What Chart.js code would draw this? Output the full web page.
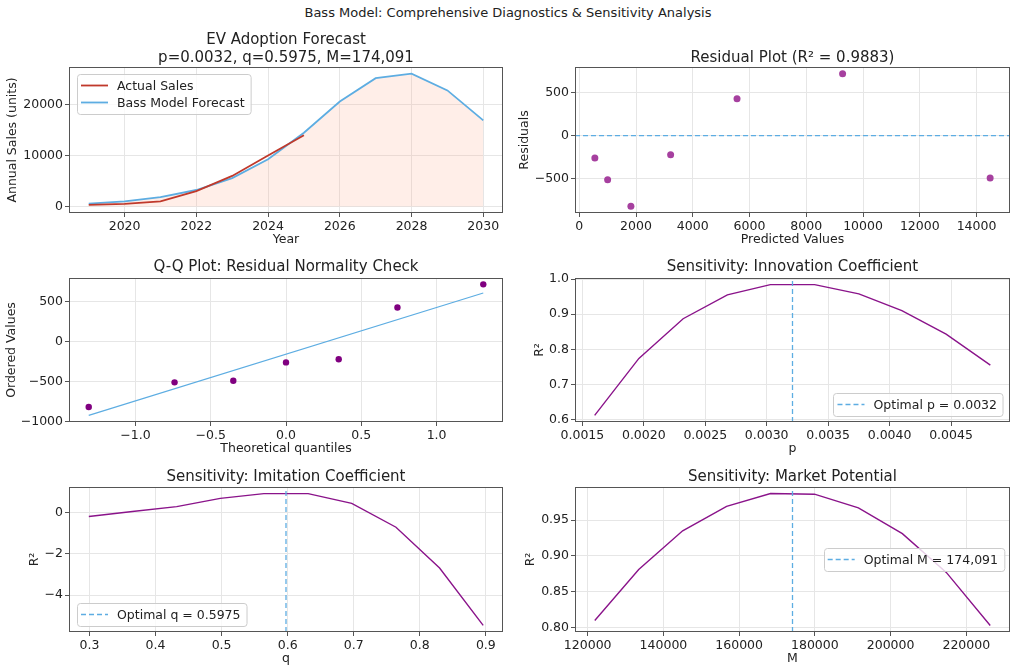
<!DOCTYPE html>
<html lang="en">
<head>
<meta charset="UTF-8">
<title>Bass Model Diagnostics</title>
<script src="https://cdn.jsdelivr.net/npm/chart.js"></script>
<style>
    body { margin: 0; background: #fff; font-family: "DejaVu Sans", sans-serif; }
    #page { position: relative; width: 1016px; height: 672px; overflow: hidden; }
    #suptitle {
        position: absolute; top: 5px; left: 0; width: 1016px;
        text-align: center; font-size: 13px; line-height: 16px; color: #222;
    }
    .panel { position: absolute; }
</style>
</head>
<body>
<div id="page">
    <div id="suptitle">Bass Model: Comprehensive Diagnostics &amp; Sensitivity Analysis</div>
    <div class="panel" id="p1"><canvas id="c1"></canvas></div>
    <div class="panel" id="p2"><canvas id="c2"></canvas></div>
    <div class="panel" id="p3"><canvas id="c3"></canvas></div>
    <div class="panel" id="p4"><canvas id="c4"></canvas></div>
    <div class="panel" id="p5"><canvas id="c5"></canvas></div>
    <div class="panel" id="p6"><canvas id="c6"></canvas></div>
</div>

<script>
    // ---- data ----
    const years = [2019, 2020, 2021, 2022, 2023, 2024, 2025, 2026, 2027, 2028, 2029, 2030];
    const actualYears = [2019, 2020, 2021, 2022, 2023, 2024, 2025];
    const actualSales = [290, 490, 1000, 3000, 5990, 10000, 13990];
    const forecastSales = [550, 1000, 1820, 3220, 5560, 9280, 14480, 20600, 25200, 26100, 22800, 16900];

    const predictedValues = [550, 1000, 1820, 3220, 5560, 9280, 14480];
    const residuals = [-260, -510, -820, -220, 430, 720, -490];

    const theoreticalQ = [-1.31, -0.74, -0.35, 0, 0.35, 0.74, 1.31];
    const orderedResiduals = [-820, -510, -490, -260, -220, 430, 720];
    const qqLineX = [-1.31, 1.31];
    const qqLineY = [-925, 612];

    const pValues = [0.00160, 0.00196, 0.00232, 0.00268, 0.00303, 0.00339, 0.00375, 0.00410, 0.00446, 0.00482];
    const pR2 = [0.612, 0.774, 0.887, 0.955, 0.984, 0.984, 0.958, 0.910, 0.843, 0.755];
    const qValues = [0.299, 0.365, 0.432, 0.498, 0.564, 0.631, 0.697, 0.764, 0.830, 0.896];
    const qR2 = [-0.19, 0.05, 0.29, 0.69, 0.92, 0.92, 0.45, -0.71, -2.69, -5.47];
    const mValues = [121864, 133470, 145076, 156682, 168288, 179894, 191500, 203106, 214712, 226318];
    const mR2 = [0.810, 0.881, 0.935, 0.969, 0.987, 0.986, 0.967, 0.931, 0.877, 0.803];

    const pOpt = 0.00321, qOpt = 0.5975, mOpt = 174091;

    // tick values
    const yearTicks = [2020, 2022, 2024, 2026, 2028, 2030];
    const salesTicks = [0, 10000, 20000];
    const predTicks = [0, 2000, 4000, 6000, 8000, 10000, 12000, 14000];
    const residTicks = [-500, 0, 500];
    const quantTicks = [-1.0, -0.5, 0.0, 0.5, 1.0];
    const orderedTicks = [-1000, -500, 0, 500];
    const pTicks = [0.0015, 0.0020, 0.0025, 0.0030, 0.0035, 0.0040, 0.0045];
    const pR2Ticks = [0.6, 0.7, 0.8, 0.9, 1.0];
    const qTicks = [0.3, 0.4, 0.5, 0.6, 0.7, 0.8, 0.9];
    const qR2Ticks = [-4, -2, 0];
    const mTicks = [120000, 140000, 160000, 180000, 200000, 220000];
    const mR2Ticks = [0.80, 0.85, 0.90, 0.95];

    // ---- styling ----
    const FONT = '"DejaVu Sans", sans-serif';
    const BLUE = '#5dade2';
    const PURPLE = '#8a138a';
    const GRID = '#e6e6e6';
    const SPINE = '#555555';

    const pts = (xs, ys) => xs.map((x, i) => ({ x: x, y: ys[i] }));
    const minus = s => s.replace('-', '\u2212');

    // frame round the plot area, like matplotlib spines
    const frame = {
        id: 'frame',
        afterDatasetsDraw(chart) {
            const a = chart.chartArea, ctx = chart.ctx;
            ctx.save();
            ctx.strokeStyle = SPINE;
            ctx.lineWidth = 1;
            ctx.strokeRect(Math.round(a.left) + 0.5, Math.round(a.top) + 0.5,
                Math.round(a.right - a.left) - 1, Math.round(a.bottom - a.top) - 1);
            ctx.restore();
        }
    };

    // legend box drawn inside the plot area
    const boxLegend = {
        id: 'boxLegend',
        afterDraw(chart, args, opts) {
            if (!opts.corner) return;
            const items = chart.data.datasets.filter(d => d.inLegend);
            const ctx = chart.ctx, a = chart.chartArea;
            ctx.save();
            ctx.font = '12.5px ' + FONT;
            const lineH = 17, sw = 27;
            const textW = Math.max(...items.map(d => ctx.measureText(d.label).width));
            const w = 4 + sw + 9 + textW + 6;
            const h = 6 + lineH * items.length;
            let x, y;
            if (opts.corner === 'ul') { x = a.left + 8; y = a.top + 7; }
            if (opts.corner === 'lr') { x = a.right - 7 - w; y = a.bottom - 6 - h; }
            if (opts.corner === 'll') { x = a.left + 8; y = a.bottom - 6 - h; }
            if (opts.corner === 'cr') { x = a.right - 6 - w; y = (a.top + a.bottom) / 2 - h / 2; }
            ctx.fillStyle = 'rgba(255,255,255,0.8)';
            ctx.strokeStyle = '#cccccc';
            ctx.lineWidth = 1;
            ctx.beginPath();
            ctx.roundRect(Math.round(x) + 0.5, Math.round(y) + 0.5, w, h, 3);
            ctx.fill();
            ctx.stroke();
            items.forEach((d, i) => {
                const cy = y + 3 + lineH * i + lineH / 2;
                ctx.strokeStyle = d.borderColor;
                ctx.lineWidth = d.borderWidth;
                ctx.setLineDash(d.borderDash || []);
                ctx.beginPath();
                ctx.moveTo(x + 4, cy);
                ctx.lineTo(x + 4 + sw, cy);
                ctx.stroke();
                ctx.setLineDash([]);
                ctx.fillStyle = '#222';
                ctx.textBaseline = 'middle';
                ctx.fillText(d.label, x + 4 + sw + 9, cy + 1);
            });
            ctx.restore();
        }
    };

    function axis(min, max, ticks, fmt, title, width, height, titlePad) {
        return {
            type: 'linear',
            min: min,
            max: max,
            bounds: 'data',
            afterBuildTicks: s => { s.ticks = ticks.map(v => ({ value: v })); },
            afterFit: s => {
                if (width) s.width = width;
                if (height) s.height = height;
            },
            grid: { color: GRID, tickColor: SPINE, tickLength: 4, lineWidth: 1 },
            border: { display: false },
            ticks: {
                autoSkip: false, maxRotation: 0, padding: 2,
                color: '#222', font: { family: FONT, size: 12.5 },
                callback: v => minus(fmt(v))
            },
            title: {
                display: true, text: title, color: '#222',
                font: { family: FONT, size: 12.5 },
                padding: titlePad
            }
        };
    }

    function makeChart(id, box, cfg) {
        const div = document.getElementById('p' + id);
        div.style.left = box.left + 'px';
        div.style.top = box.top + 'px';
        div.style.width = box.width + 'px';
        div.style.height = box.height + 'px';
        return new Chart(document.getElementById('c' + id), {
            type: 'line',
            data: { datasets: cfg.datasets },
            options: {
                responsive: true,
                maintainAspectRatio: false,
                animation: false,
                layout: { padding: { right: box.padRight } },
                elements: { line: { tension: 0 } },
                scales: {
                    x: cfg.x,
                    y: cfg.y
                },
                plugins: {
                    legend: { display: false },
                    tooltip: { enabled: false },
                    title: {
                        display: true, text: cfg.title, fullSize: false, color: '#222',
                        font: { family: FONT, size: 15, weight: 'normal', lineHeight: 1.2 },
                        padding: { top: 0, bottom: cfg.titleGap }
                    },
                    boxLegend: { corner: cfg.legend }
                }
            },
            plugins: [frame, boxLegend]
        });
    }

    const lineSet = (label, data, color, extra) => Object.assign({
        label: label, data: data, borderColor: color, borderWidth: 1.5,
        pointRadius: 0, fill: false
    }, extra || {});

    const dotSet = (data, color, r) => ({
        data: data, showLine: false, pointRadius: r, pointBorderWidth: 0,
        pointBackgroundColor: color, borderColor: color
    });

    const xPad = { top: 0, bottom: 2 };

    // 1. EV adoption forecast (first dataset is drawn on top and listed first)
    makeChart(1, { left: 0, top: 31, width: 508, height: 218, padRight: 5 }, {
        title: ['EV Adoption Forecast', 'p=0.0032, q=0.5975, M=174,091'],
        titleGap: 0,
        legend: 'ul',
        x: axis(2018.45, 2030.55, yearTicks, v => String(v), 'Year', 0, 36, xPad),
        y: axis(-1300, 27400, salesTicks, v => String(v), 'Annual Sales (units)', 69, 0, { top: 5.5, bottom: 0 }),
        datasets: [
            lineSet('Actual Sales', pts(actualYears, actualSales), '#c0392b', { inLegend: true, borderWidth: 1.8 }),
            lineSet('Bass Model Forecast', pts(years, forecastSales), BLUE,
                { inLegend: true, borderWidth: 1.8, fill: 'origin', backgroundColor: 'rgba(255,170,140,0.2)' })
        ]
    });

    // 2. Residual plot
    makeChart(2, { left: 508, top: 49, width: 508, height: 200, padRight: 6 }, {
        title: 'Residual Plot (R\u00b2 = 0.9883)',
        titleGap: 0,
        x: axis(-150, 15180, predTicks, v => String(v), 'Predicted Values', 0, 36, xPad),
        y: axis(-897, 797, residTicks, v => String(v), 'Residuals', 67, 0, { top: 9.5, bottom: 0 }),
        datasets: [
            dotSet(pts(predictedValues, residuals), '#a6409f', 3.5),
            lineSet('zero', pts([-150, 15180], [0, 0]), BLUE, { borderWidth: 1.3, borderDash: [5, 3] })
        ]
    });

    // 3. Q-Q plot
    makeChart(3, { left: 0, top: 258, width: 508, height: 200, padRight: 5 }, {
        title: 'Q-Q Plot: Residual Normality Check',
        titleGap: 2,
        x: axis(-1.441, 1.441, quantTicks, v => v.toFixed(1), 'Theoretical quantiles', 0, 36, xPad),
        y: axis(-1008, 800, orderedTicks, v => String(v), 'Ordered Values', 69, 0, { top: 4.5, bottom: 0 }),
        datasets: [
            dotSet(pts(theoreticalQ, orderedResiduals), '#800080', 3.2),
            lineSet('fit', pts(qqLineX, qqLineY), BLUE, { borderWidth: 1.2 })
        ]
    });

    // 4. Sensitivity p
    makeChart(4, { left: 508, top: 258, width: 508, height: 200, padRight: 6 }, {
        title: 'Sensitivity: Innovation Coefficient',
        titleGap: 2,
        legend: 'lr',
        x: axis(0.00144, 0.00498, pTicks, v => v.toFixed(4), 'p', 0, 36, xPad),
        y: axis(0.593, 1.003, pR2Ticks, v => v.toFixed(1), 'R\u00b2', 67, 0, { top: 24.5, bottom: 0 }),
        datasets: [
            lineSet('Optimal p = 0.0032', pts([pOpt, pOpt], [0.593, 1.003]), BLUE,
                { borderWidth: 1.3, borderDash: [5, 3], inLegend: true }),
            lineSet('p curve', pts(pValues, pR2), PURPLE, { borderWidth: 1.4 })
        ]
    });

    // 5. Sensitivity q
    makeChart(5, { left: 0, top: 468, width: 508, height: 200, padRight: 5 }, {
        title: 'Sensitivity: Imitation Coefficient',
        titleGap: 1,
        legend: 'll',
        x: axis(0.269, 0.926, qTicks, v => v.toFixed(1), 'q', 0, 36, xPad),
        y: axis(-5.79, 1.24, qR2Ticks, v => String(v), 'R\u00b2', 69, 0, { top: 27.5, bottom: 0 }),
        datasets: [
            lineSet('Optimal q = 0.5975', pts([qOpt, qOpt], [-5.79, 1.24]), BLUE,
                { borderWidth: 1.3, borderDash: [5, 3], inLegend: true }),
            lineSet('q curve', pts(qValues, qR2), PURPLE, { borderWidth: 1.4 })
        ]
    });

    // 6. Sensitivity M
    makeChart(6, { left: 508, top: 468, width: 508, height: 200, padRight: 6 }, {
        title: 'Sensitivity: Market Potential',
        titleGap: 1,
        legend: 'cr',
        x: axis(116641, 231541, mTicks, v => String(v), 'M', 0, 36, xPad),
        y: axis(0.794, 0.996, mR2Ticks, v => v.toFixed(2), 'R\u00b2', 67, 0, { top: 15.5, bottom: 0 }),
        datasets: [
            lineSet('Optimal M = 174,091', pts([mOpt, mOpt], [0.794, 0.996]), BLUE,
                { borderWidth: 1.3, borderDash: [5, 3], inLegend: true }),
            lineSet('M curve', pts(mValues, mR2), PURPLE, { borderWidth: 1.4 })
        ]
    });
</script>
</body>
</html>
